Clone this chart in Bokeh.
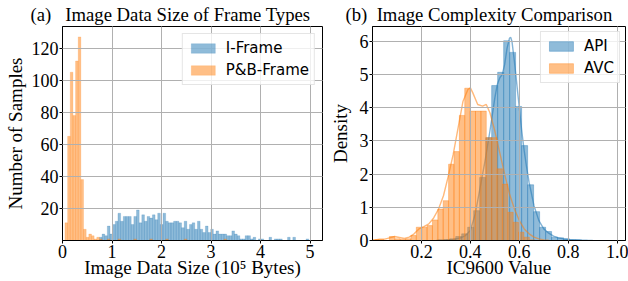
import numpy as np
from bokeh.plotting import figure
from bokeh.layouts import row
from bokeh.models import (Range1d, Legend, LegendItem, FixedTicker, Title,
                          ColumnDataSource, NumeralTickFormatter)
from bokeh.embed import file_html
from bokeh.resources import INLINE

# ---------------- data: panel (a) ----------------
size_bin_start = 0.05      # in 1e5 bytes
size_bin_width = 0.0535
iframe_counts = [0, 0, 0, 0, 0, 0, 0, 0, 0, 0, 0, 0, 0,
                 2, 4, 3, 9, 4, 10, 12, 17, 12, 15, 15, 15, 10, 15, 19, 11, 16,
                 12, 15, 14, 16, 13, 17, 10, 17, 12, 11, 11, 12, 12, 11, 8, 12,
                 7, 10, 11, 7, 12, 7, 5, 9, 5, 7, 4, 6, 4, 4, 4, 3, 3, 6, 4, 3,
                 1, 1, 3, 3, 1, 2, 0, 1, 1, 0, 0, 2, 0, 1, 1, 1, 0, 0, 2, 0, 2,
                 0, 0, 0, 0, 1]
pb_counts = [11, 65, 105, 78, 112, 127, 38, 7, 2, 4, 3, 1, 2, 1, 0, 0, 1, 0,
             0, 0, 1, 0, 0, 0, 0, 0, 1, 0, 0, 0, 0, 0, 1, 0, 0, 0, 0, 0, 1, 0,
             0, 0, 0, 0, 0, 1, 0, 0, 0, 0, 0, 0, 0, 0, 0, 0, 0, 0, 0, 0, 1]
size_ticks = [0, 1, 2, 3, 4, 5]
count_ticks = [20, 40, 60, 80, 100, 120]

# ---------------- data: panel (b) ----------------
avc_bin_start = 0.003
avc_bin_width = 0.022
avc_density = [0.03, 0.03, 0.0, 0.12, 0.05, 0.03, 0.05, 0.15, 0.4, 0.4, 0.45,
               0.62, 0.95, 1.2, 2.3, 2.68, 3.77, 4.59, 3.9, 3.9, 3.9, 3.1, 3.1,
               2.16, 1.7, 0.85, 0.55, 0.25, 0.1, 0.02]
api_bin_start = 0.2665
api_bin_width = 0.0245
api_density = [0.02, 0.03, 0.05, 0.12, 0.2, 0.4, 0.9, 1.9, 3.1, 4.67, 5.07,
               6.02, 5.67, 4.04, 2.86, 1.68, 0.87, 0.4, 0.27, 0.1, 0.08, 0.05,
               0.02, 0.02, 0.01]
avc_kde_x = [0.01, 0.03, 0.05, 0.07, 0.09, 0.11, 0.13, 0.15, 0.17, 0.19, 0.21,
             0.23, 0.25, 0.27, 0.29, 0.31, 0.33, 0.35, 0.37, 0.39, 0.40, 0.41,
             0.43, 0.45, 0.465, 0.48, 0.50, 0.52, 0.54, 0.56, 0.58, 0.60, 0.62,
             0.64, 0.66, 0.68, 0.70, 0.72]
avc_kde_y = [0.02, 0.04, 0.04, 0.08, 0.12, 0.09, 0.06, 0.1, 0.2, 0.35, 0.42,
             0.5, 0.68, 0.95, 1.35, 1.95, 2.6, 3.4, 4.2, 4.55, 4.6, 4.45, 4.1,
             4.05, 4.1, 3.85, 3.3, 2.65, 2.0, 1.4, 0.95, 0.6, 0.35, 0.2, 0.1,
             0.05, 0.02, 0.01]
api_kde_x = [0.26, 0.30, 0.33, 0.36, 0.38, 0.40, 0.42, 0.44, 0.46, 0.48, 0.49,
             0.50, 0.51, 0.52, 0.53, 0.54, 0.55, 0.56, 0.565, 0.57, 0.58, 0.59,
             0.60, 0.61, 0.62, 0.63, 0.64, 0.66, 0.68, 0.70, 0.72, 0.74, 0.76,
             0.78, 0.80, 0.85, 0.90]
api_kde_y = [0.0, 0.01, 0.03, 0.08, 0.15, 0.3, 0.8, 1.6, 2.4, 3.3, 3.8, 4.3,
             4.7, 4.9, 5.0, 5.3, 5.8, 6.1, 6.12, 6.0, 5.4, 4.7, 4.0, 3.3, 2.7,
             2.2, 1.75, 1.05, 0.6, 0.35, 0.22, 0.13, 0.08, 0.05, 0.03, 0.01, 0.0]
ic_ticks = [0.2, 0.4, 0.6, 0.8, 1.0]
density_ticks = [0, 1, 2, 3, 4, 5, 6]

# ---------------- styling ----------------
BLUE = "#1f77b4"
ORANGE = "#ff7f0e"
SERIF = "Liberation Serif"
SANS = "DejaVu Sans"
NB = "\u00a0"


def hist_source(start, width, heights):
    n = len(heights)
    left = start + width * np.arange(n)
    return ColumnDataSource(dict(left=left, right=left + width,
                                 top=list(heights), bottom=[0] * n))


def style(p, xticks, yticks, xlabel, ylabel, ylabel_standoff):
    p.outline_line_color = "black"
    p.outline_line_width = 1
    p.outline_line_alpha = 1
    p.background_fill_color = "white"
    p.border_fill_color = "white"
    p.xaxis.ticker = FixedTicker(ticks=xticks)
    p.yaxis.ticker = FixedTicker(ticks=yticks)
    p.xgrid.ticker = FixedTicker(ticks=xticks)
    p.ygrid.ticker = FixedTicker(ticks=yticks)
    for ax in (p.xaxis[0], p.yaxis[0]):
        ax.axis_line_color = "black"
        ax.major_tick_line_color = "black"
        ax.major_tick_in = 0
        ax.major_tick_out = 3
        ax.minor_tick_line_color = None
        ax.major_label_text_font = SERIF
        ax.major_label_text_font_size = "18px"
        ax.major_label_text_font_style = "normal"
        ax.major_label_text_color = "black"
        ax.major_label_standoff = 1
        ax.axis_label_text_font = SERIF
        ax.axis_label_text_font_size = "19px"
        ax.axis_label_text_font_style = "normal"
        ax.axis_label_text_color = "black"
    p.xaxis[0].axis_label = xlabel
    p.yaxis[0].axis_label = ylabel
    p.xaxis[0].axis_label_standoff = -4
    p.yaxis[0].axis_label_standoff = ylabel_standoff
    for g in (p.xgrid[0], p.ygrid[0]):
        g.grid_line_color = "#b0b0b0"
        g.grid_line_width = 1
        g.level = "guide"


def add_title(p, text, offset):
    p.add_layout(Title(text=text, align="left", offset=offset, standoff=3,
                       text_font=SERIF, text_font_size="18.7px",
                       text_font_style="normal", text_color="black"), "above")


def legend(p, items, margin):
    leg = Legend(items=items, location="top_right", margin=margin, padding=5,
                 spacing=4, glyph_width=30, glyph_height=12, label_height=18,
                 label_standoff=8, label_text_font=SANS,
                 label_text_font_size="15px", label_text_color="black",
                 border_line_color="#cccccc", border_line_width=1,
                 background_fill_color="white", background_fill_alpha=0.8)
    p.add_layout(leg)


# ---------------- panel (a) ----------------
p1 = figure(width=326, height=281, output_backend="svg", toolbar_location=None,
            title=None, x_range=Range1d(0, 5.25), y_range=Range1d(0, 133.5),
            min_border_left=62, min_border_right=4, min_border_top=26,
            min_border_bottom=41)
style(p1, size_ticks, count_ticks, "Image Data Size (10\u2075 Bytes)",
      "Number of Samples", 3)
r_i = p1.quad(left="left", right="right", top="top", bottom="bottom",
              source=hist_source(size_bin_start, size_bin_width, iframe_counts),
              fill_color=BLUE, fill_alpha=0.5, line_color=BLUE, line_alpha=0.3,
              line_width=0.6)
r_pb = p1.quad(left="left", right="right", top="top", bottom="bottom",
               source=hist_source(size_bin_start, size_bin_width, pb_counts),
               fill_color=ORANGE, fill_alpha=0.5, line_color=ORANGE,
               line_alpha=0.3, line_width=0.6)
legend(p1, [LegendItem(label="I-Frame", renderers=[r_i]),
            LegendItem(label="P&B-Frame", renderers=[r_pb])], 7)
add_title(p1, "(a)" + NB * 3 + "Image Data Size of Frame Types", -32)

# ---------------- panel (b) ----------------
p2 = figure(width=302, height=281, output_backend="svg", toolbar_location=None,
            title=None, x_range=Range1d(0, 1.034), y_range=Range1d(0, 6.45),
            min_border_left=42, min_border_right=3, min_border_top=26,
            min_border_bottom=41)
style(p2, ic_ticks, density_ticks, "IC9600 Value", "Density", 6)
p2.xaxis[0].formatter = NumeralTickFormatter(format="0.0")
p2.yaxis[0].formatter = NumeralTickFormatter(format="0")
r_api = p2.quad(left="left", right="right", top="top", bottom="bottom",
                source=hist_source(api_bin_start, api_bin_width, api_density),
                fill_color=BLUE, fill_alpha=0.5, line_color=BLUE, line_alpha=0.45,
                line_width=0.8)
p2.line(api_kde_x, api_kde_y, line_color=BLUE, line_alpha=0.55, line_width=1.4)
r_avc = p2.quad(left="left", right="right", top="top", bottom="bottom",
                source=hist_source(avc_bin_start, avc_bin_width, avc_density),
                fill_color=ORANGE, fill_alpha=0.5, line_color=ORANGE,
                line_alpha=0.45, line_width=0.8)
p2.line(avc_kde_x, avc_kde_y, line_color=ORANGE, line_alpha=0.55, line_width=1.4)
legend(p2, [LegendItem(label="API", renderers=[r_api]),
            LegendItem(label="AVC", renderers=[r_avc])], 5)
add_title(p2, "(b)" + NB * 2 + "Image Complexity Comparison", -27)

layout = row(p1, p2)
open("out.html", "w").write(file_html(layout, INLINE))
